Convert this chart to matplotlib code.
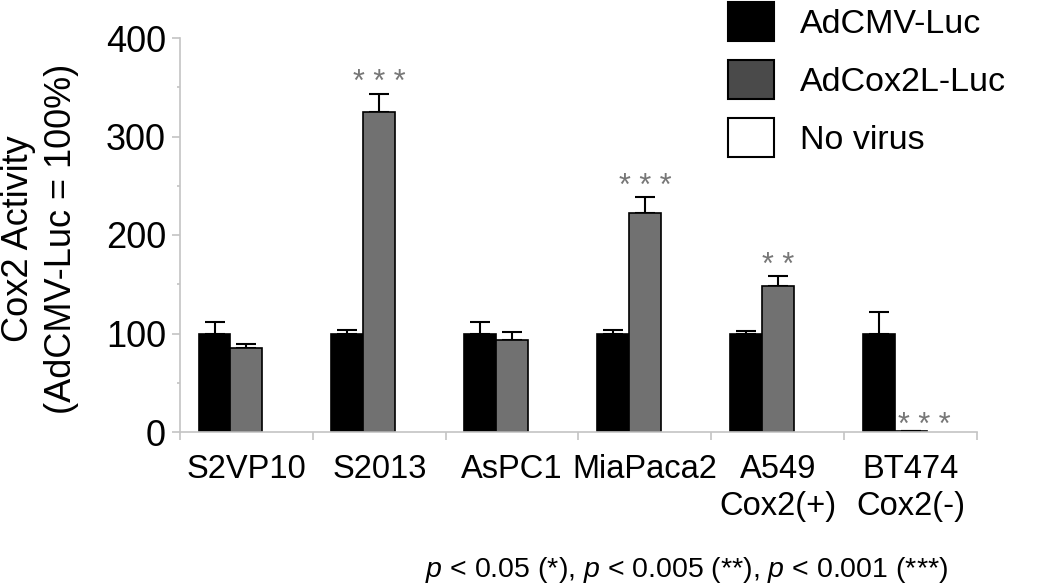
import numpy as np
import matplotlib
matplotlib.use('Agg')
import matplotlib.pyplot as plt
from matplotlib.patches import Patch
from matplotlib.ticker import FixedLocator, MultipleLocator

plt.rcParams['font.family'] = ['Liberation Sans', 'DejaVu Sans']
plt.rcParams['mathtext.fontset'] = 'custom'
plt.rcParams['mathtext.rm'] = 'Liberation Sans'
plt.rcParams['mathtext.it'] = 'Liberation Sans:italic'

# data
cell_lines = ['S2VP10', 'S2013', 'AsPC1', 'MiaPaca2', 'A549\nCox2(+)', 'BT474\nCox2(-)']
cmv = [100, 100, 100, 100, 100, 100]
cmv_err = [11.5, 3.5, 11.5, 4, 2.5, 21.5]
cox2l = [85, 325, 93, 222, 148, 1.5]
cox2l_err = [4, 18, 9, 17, 10, 0]
no_virus = [0, 0, 0, 0, 0, 0]

# significance marks: (group, label, x shift, baseline y)
sig_marks = [(1, '* * *', 0.0, 346), (3, '* * *', 0.0, 241),
             (4, '* *', 0.0, 160), (5, '* * *', 0.1, -2.5)]

fig = plt.figure(figsize=(10.5, 5.86), dpi=100)
ax = fig.add_axes([180 / 1050, 154 / 586, 797 / 1050, 394 / 586])

x = np.arange(len(cell_lines))
w = 0.24
spine_col = '#c4c4c4'
bar_gray = '#717171'

ax.bar(x - w, cmv, w, color='black', edgecolor='black', linewidth=1.2, zorder=2)
ax.bar(x, cox2l, w, color=bar_gray, edgecolor='black', linewidth=1.2, zorder=2)
ax.bar(x + w, no_virus, w, color='white', edgecolor='black', linewidth=0, zorder=2)

ax.errorbar(x - w, cmv, yerr=[np.zeros(len(x)), cmv_err], fmt='none',
            ecolor='black', elinewidth=1.5, capsize=7, capthick=1.5, zorder=1)
ax.errorbar(x, cox2l, yerr=[np.zeros(len(x)), cox2l_err], fmt='none',
            ecolor='black', elinewidth=1.5, capsize=7.5, capthick=1.5, zorder=1)

for g, lab, dx, yb in sig_marks:
    ax.text(g + dx, yb, lab, ha='center', va='baseline', fontsize=22, color='#777777')

ax.set_xlim(-0.5, len(x) - 0.5)
ax.set_ylim(0, 400)

for s in ['top', 'right']:
    ax.spines[s].set_visible(False)
for s in ['left', 'bottom']:
    ax.spines[s].set_color(spine_col)
    ax.spines[s].set_linewidth(1.2)

ax.set_yticks([0, 100, 200, 300, 400])
ax.yaxis.set_minor_locator(MultipleLocator(50))
ax.tick_params(axis='y', which='major', labelsize=26, length=6, width=1.2,
               color=spine_col, pad=4)
ax.tick_params(axis='y', which='minor', length=2.5, width=1.2, color=spine_col)

ax.set_xticks(x)
ax.set_xticklabels(cell_lines, linespacing=1.25)
ax.xaxis.set_minor_locator(FixedLocator(np.arange(-0.5, len(x), 1.0)))
ax.tick_params(axis='x', which='major', labelsize=23.5, length=0, pad=16)
ax.tick_params(axis='x', which='minor', length=6, width=1.2, color=spine_col)

fig.text(40 / 1050, 1 - 239 / 586, 'Cox2 Activity\n(AdCMV-Luc = 100%)', rotation=90,
         ha='center', va='center', multialignment='center', fontsize=26, linespacing=1.3)

handles = [Patch(facecolor='black', edgecolor='black', linewidth=1.5),
           Patch(facecolor='#4a4a4a', edgecolor='black', linewidth=1.5),
           Patch(facecolor='white', edgecolor='black', linewidth=1.5)]
fig.legend(handles, ['AdCMV-Luc', 'AdCox2L-Luc', 'No virus'], loc='upper left',
           bbox_to_anchor=(728 / 1050, 1 - 2 / 586), frameon=False, fontsize=24.5,
           borderpad=0, borderaxespad=0, handlelength=1.35, handleheight=1.38,
           labelspacing=0.56, handletextpad=0.76)

fig.text(425 / 1050, 1 - 577 / 586,
         r'$p$ < 0.05 (*), $p$ < 0.005 (**), $p$ < 0.001 (***)',
         ha='left', va='baseline', fontsize=20.5)

fig.savefig('out.png', dpi=100)
